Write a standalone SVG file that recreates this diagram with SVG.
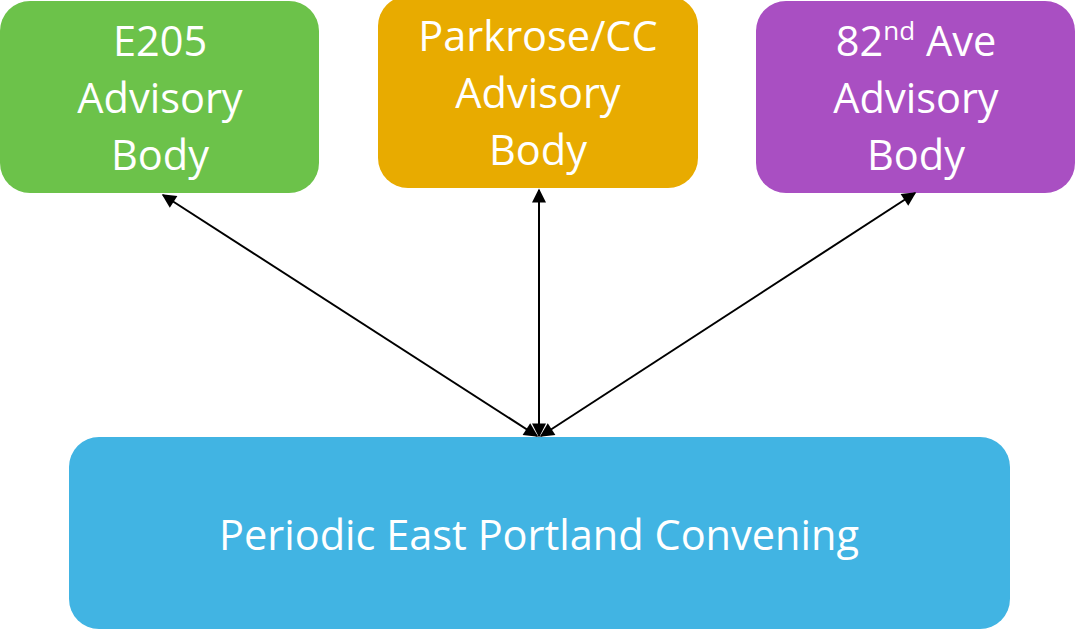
<svg xmlns="http://www.w3.org/2000/svg" width="1076" height="629" viewBox="0 0 1076 629">
<defs>
<style>
.t{font-family:"Open Sans","Noto Sans","Liberation Sans",sans-serif;font-size:41.5px;fill:#fff;text-anchor:middle}
.c{stroke:#000;stroke-width:2;fill:none;marker-start:url(#ah);marker-end:url(#ah)}
</style>
<marker id="ah" viewBox="0 0 10 10" refX="9" refY="5" markerWidth="8" markerHeight="7" orient="auto-start-reverse" markerUnits="strokeWidth">
<path d="M0,0 L10,5 L0,10 z" fill="#000"/>
</marker>
</defs>
<g id="e205">
<rect x="0" y="1" width="319" height="192" rx="30" fill="#6CC24A"/>
<text class="t" x="160" y="56">E205</text>
<text class="t" x="160" y="113">Advisory</text>
<text class="t" x="160" y="170">Body</text>
</g>
<g id="parkrose">
<rect x="378" y="-4" width="320" height="192" rx="30" fill="#E8AB00"/>
<text class="t" x="538" y="51">Parkrose/CC</text>
<text class="t" x="538" y="108">Advisory</text>
<text class="t" x="538" y="165">Body</text>
</g>
<g id="ave82">
<rect x="756" y="1" width="319" height="192" rx="30" fill="#A94FC2"/>
<text class="t" x="916" y="56">82<tspan font-size="26" dy="-16">nd</tspan><tspan dy="16"> Ave</tspan></text>
<text class="t" x="916" y="113">Advisory</text>
<text class="t" x="916" y="170">Body</text>
</g>
<g id="convening">
<rect x="69" y="437" width="941" height="192" rx="30" fill="#41B4E3"/>
<text class="t" x="539" y="550">Periodic East Portland Convening</text>
</g>
<g id="connectors">
<line class="c" x1="163" y1="195" x2="537" y2="436"/>
<line class="c" x1="539" y1="190" x2="539" y2="436"/>
<line class="c" x1="915" y1="193" x2="541" y2="436"/>
</g>
</svg>
